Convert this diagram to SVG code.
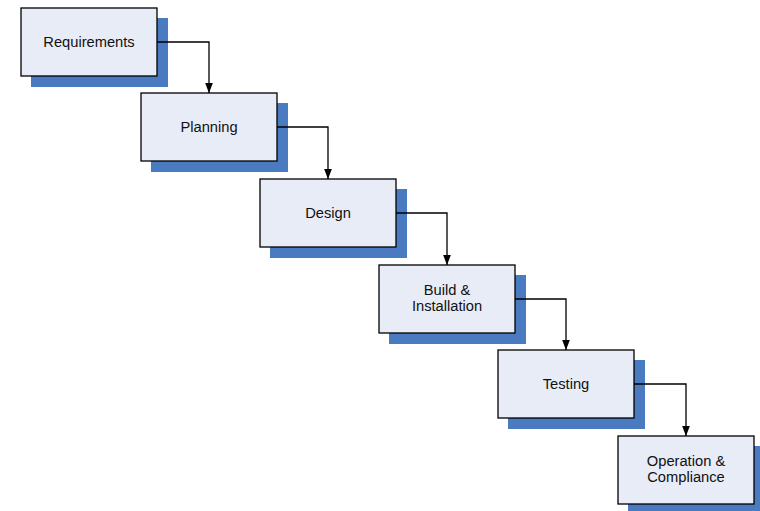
<svg xmlns="http://www.w3.org/2000/svg" width="760" height="511" viewBox="0 0 760 511">
<defs>
<style>
.sh{fill:#4a7abf;}
.bx{fill:#e8ecf7;stroke:#000;stroke-width:1.3;}
.t{font-family:"Liberation Sans",Arial,sans-serif;font-size:14.7px;fill:#111;text-anchor:middle;}
.c{fill:none;stroke:#000;stroke-width:1.3;}
</style>
<marker id="ah" markerWidth="10" markerHeight="13" refX="13" refY="5" orient="auto" markerUnits="userSpaceOnUse" viewBox="0 0 13 10">
<path d="M0,0 L13,5 L0,10 Z" fill="#000"/>
</marker>
</defs>
<rect width="760" height="511" fill="#fff"/>
<g id="requirements">
<rect class="sh" x="31" y="18" width="137" height="69"/>
<rect class="bx" x="21" y="8" width="136" height="68"/>
<text class="t" x="89" y="47">Requirements</text>
</g>
<g id="planning">
<rect class="sh" x="151" y="103" width="137" height="69"/>
<rect class="bx" x="141" y="93" width="136" height="68"/>
<text class="t" x="209" y="132">Planning</text>
</g>
<g id="design">
<rect class="sh" x="270" y="189" width="137" height="69"/>
<rect class="bx" x="260" y="179" width="136" height="68"/>
<text class="t" x="328" y="218">Design</text>
</g>
<g id="build">
<rect class="sh" x="389" y="275" width="137" height="69"/>
<rect class="bx" x="379" y="265" width="136" height="68"/>
<text class="t" x="447" y="295">Build &amp;</text>
<text class="t" x="447" y="311">Installation</text>
</g>
<g id="testing">
<rect class="sh" x="508" y="360" width="137" height="69"/>
<rect class="bx" x="498" y="350" width="136" height="68"/>
<text class="t" x="566" y="389">Testing</text>
</g>
<g id="operation">
<rect class="sh" x="628" y="446" width="137" height="69"/>
<rect class="bx" x="618" y="436" width="136" height="68"/>
<text class="t" x="686" y="466">Operation &amp;</text>
<text class="t" x="686" y="482">Compliance</text>
</g>
<g id="connectors">
<path class="c" d="M157,42 H209 V93" marker-end="url(#ah)"/>
<path class="c" d="M277,127 H328 V179" marker-end="url(#ah)"/>
<path class="c" d="M396,213 H447 V265" marker-end="url(#ah)"/>
<path class="c" d="M515,299 H566 V350" marker-end="url(#ah)"/>
<path class="c" d="M634,384 H686 V436" marker-end="url(#ah)"/>
</g>
</svg>
